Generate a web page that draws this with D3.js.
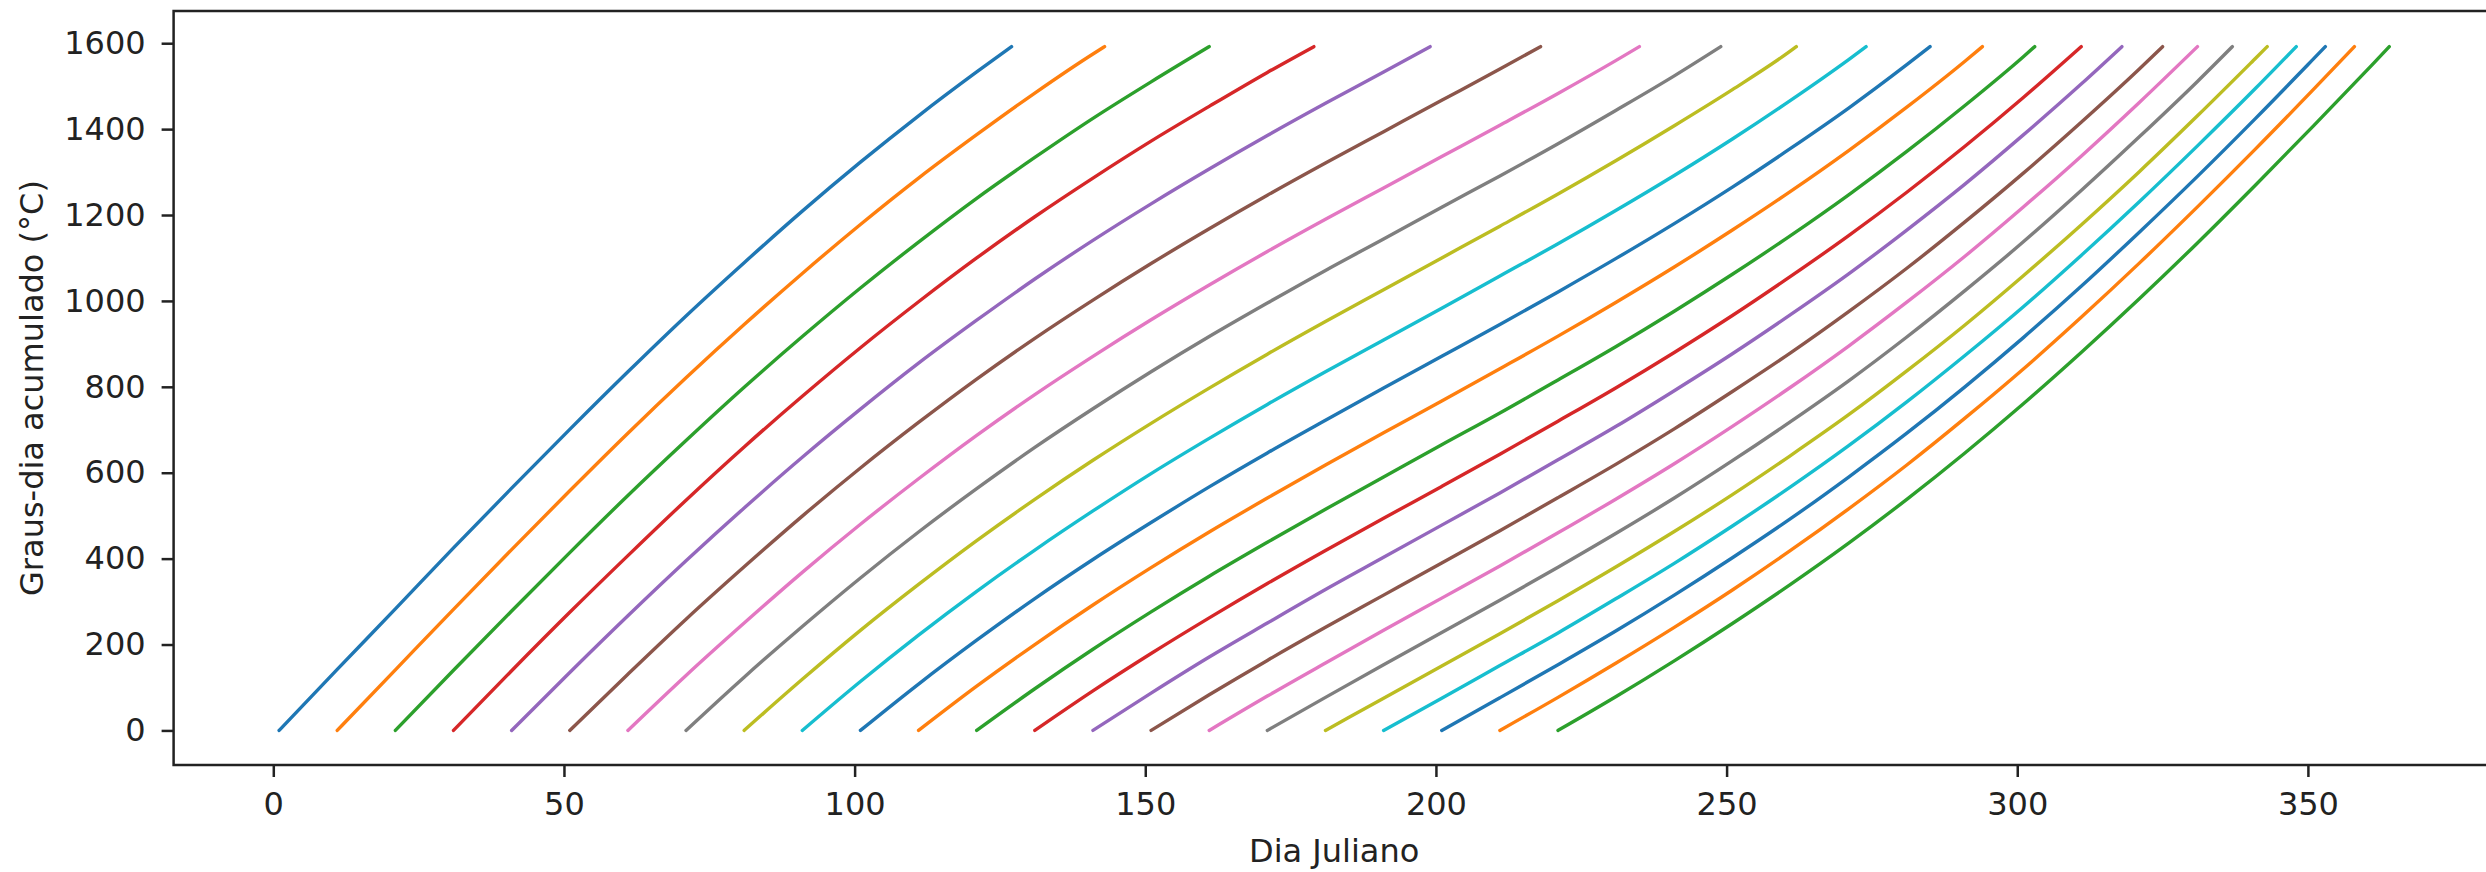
<!DOCTYPE html>
<html>
<head>
<meta charset="utf-8">
<script src="https://cdn.jsdelivr.net/npm/d3@7"></script>
<style>
  body { margin: 0; background: #fff; }
  svg { display: block; font-family: "DejaVu Sans", sans-serif; }
</style>
</head>
<body>
<div id="chart"></div>
<script>
// dia juliano em que cada curva começa e termina
var inicio = [1, 11, 21, 31, 41, 51, 61, 71, 81, 91, 101, 111, 121, 131, 141, 151, 161, 171, 181, 191, 201, 211, 221];
var fim = [127, 143, 161, 179, 199, 218, 235, 249, 262, 274, 285, 294, 303, 311, 318, 325, 331, 337, 343, 348, 353, 358, 364];

// graus-dia acumulados, um valor a cada 10 dias desde o início; o último é no dia "fim"
var gd01 = [0, 142, 283, 425, 564, 701, 835, 965, 1089, 1209, 1323, 1431, 1533, 1592];
var gd02 = [0, 141, 282, 421, 558, 692, 821, 945, 1064, 1178, 1286, 1387, 1484, 1575, 1592];
var gd03 = [0, 140, 278, 414, 547, 675, 799, 917, 1030, 1137, 1239, 1334, 1425, 1510, 1592];
var gd04 = [0, 139, 275, 407, 536, 660, 778, 891, 998, 1100, 1196, 1286, 1372, 1453, 1532, 1592];
var gd05 = [0, 135, 267, 395, 518, 636, 748, 855, 955, 1051, 1141, 1226, 1307, 1385, 1460, 1533, 1592];
var gd06 = [0, 131, 259, 381, 499, 611, 717, 818, 913, 1002, 1087, 1168, 1246, 1321, 1394, 1467, 1540, 1592];
var gd07 = [0, 128, 250, 368, 480, 586, 687, 782, 871, 956, 1037, 1115, 1190, 1263, 1336, 1409, 1483, 1560, 1592];
var gd08 = [0, 124, 242, 355, 462, 563, 659, 749, 835, 917, 995, 1071, 1144, 1218, 1291, 1366, 1444, 1524, 1592];
var gd09 = [0, 119, 233, 340, 442, 538, 629, 715, 797, 876, 952, 1026, 1100, 1174, 1249, 1327, 1408, 1492, 1582, 1592];
var gd10 = [0, 114, 222, 324, 420, 511, 598, 680, 759, 835, 909, 983, 1058, 1133, 1211, 1292, 1377, 1467, 1562, 1592];
var gd11 = [0, 108, 210, 307, 398, 484, 567, 646, 722, 797, 871, 945, 1021, 1099, 1180, 1265, 1355, 1449, 1550, 1592];
var gd12 = [0, 103, 200, 292, 379, 462, 541, 618, 693, 767, 842, 918, 997, 1079, 1165, 1255, 1350, 1451, 1558, 1592];
var gd13 = [0, 97, 189, 276, 359, 438, 515, 590, 665, 739, 816, 894, 976, 1062, 1152, 1247, 1348, 1455, 1568, 1592];
var gd14 = [0, 92, 179, 262, 342, 419, 494, 568, 643, 720, 798, 880, 966, 1057, 1152, 1253, 1360, 1473, 1592];
var gd15 = [0, 87, 171, 250, 328, 403, 478, 553, 630, 708, 791, 877, 968, 1063, 1165, 1272, 1386, 1505, 1592];
var gd16 = [0, 83, 163, 240, 315, 390, 465, 542, 620, 702, 789, 879, 975, 1076, 1184, 1297, 1416, 1540, 1592];
var gd17 = [0, 80, 157, 233, 308, 383, 460, 539, 621, 708, 799, 895, 997, 1104, 1218, 1337, 1462, 1592];
var gd18 = [0, 77, 153, 228, 303, 380, 459, 541, 628, 719, 814, 916, 1024, 1137, 1257, 1382, 1511, 1592];
var gd19 = [0, 75, 150, 225, 302, 381, 463, 549, 640, 735, 837, 944, 1058, 1177, 1301, 1431, 1565, 1592];
var gd20 = [0, 75, 151, 227, 307, 389, 476, 567, 663, 765, 873, 986, 1106, 1231, 1361, 1495, 1592];
var gd21 = [0, 76, 153, 232, 315, 402, 493, 590, 692, 800, 914, 1034, 1160, 1290, 1425, 1564, 1592];
var gd22 = [0, 77, 157, 240, 327, 419, 516, 618, 727, 841, 962, 1088, 1219, 1354, 1493, 1592];
var gd23 = [0, 79, 162, 249, 340, 436, 538, 646, 760, 880, 1005, 1135, 1270, 1408, 1549, 1592];

var curvas = [gd01, gd02, gd03, gd04, gd05, gd06, gd07, gd08, gd09, gd10, gd11, gd12,
  gd13, gd14, gd15, gd16, gd17, gd18, gd19, gd20, gd21, gd22, gd23];

var xTicks = [0, 50, 100, 150, 200, 250, 300, 350];
var yTicks = [0, 200, 400, 600, 800, 1000, 1200, 1400, 1600];

function makeChart() {
  var width = 2486, height = 872;
  var margin = { left: 173.6, right: 2494.8, top: 11, bottom: 765 };

  var svg = d3.select("#chart")
    .append("svg")
    .attr("width", width)
    .attr("height", height);

  var x = d3.scaleLinear().domain([-17.15, 382.15]).range([margin.left, margin.right]);
  var y = d3.scaleLinear().domain([-80.5, 1675]).range([margin.bottom, margin.top]);

  // pontos de cada curva
  var dados = curvas.map(function (v, i) {
    return v.map(function (g, j) {
      return { dia: j < v.length - 1 ? inicio[i] + 10 * j : fim[i], gd: g };
    });
  });

  var line = d3.line()
    .x(function (d) { return x(d.dia) })
    .y(function (d) { return y(d.gd) })
    .curve(d3.curveMonotoneX);

  svg.append("g")
    .selectAll("path")
    .data(dados)
    .join("path")
    .attr("fill", "none")
    .attr("stroke", function (d, i) { return d3.schemeCategory10[i % 10] })
    .attr("stroke-width", 3.4)
    .attr("stroke-linecap", "round")
    .attr("d", line);

  // eixos
  var xAxis = svg.append("g")
    .attr("transform", "translate(0," + margin.bottom + ")")
    .call(d3.axisBottom(x).tickValues(xTicks).tickFormat(d3.format("d"))
      .tickSize(12).tickPadding(15).tickSizeOuter(0));
  var yAxis = svg.append("g")
    .attr("transform", "translate(" + margin.left + ",0)")
    .call(d3.axisLeft(y).tickValues(yTicks).tickFormat(d3.format("d"))
      .tickSize(12).tickPadding(16).tickSizeOuter(0));

  [xAxis, yAxis].forEach(function (a) {
    a.select(".domain").remove();
    a.selectAll(".tick line").attr("stroke", "#222").attr("stroke-width", 2.5);
    a.selectAll(".tick text")
      .attr("fill", "#222")
      .style("font-family", "'DejaVu Sans', sans-serif")
      .style("font-size", "32px");
  });

  // moldura
  svg.append("rect")
    .attr("x", margin.left)
    .attr("y", margin.top)
    .attr("width", margin.right - margin.left)
    .attr("height", margin.bottom - margin.top)
    .attr("fill", "none")
    .attr("stroke", "#222")
    .attr("stroke-width", 2.5);

  svg.append("text")
    .attr("x", (margin.left + margin.right) / 2)
    .attr("y", 862)
    .attr("text-anchor", "middle")
    .attr("fill", "#222")
    .style("font-size", "32px")
    .text("Dia Juliano");

  svg.append("text")
    .attr("transform", "translate(43," + (margin.top + margin.bottom) / 2 + ") rotate(-90)")
    .attr("text-anchor", "middle")
    .attr("fill", "#222")
    .style("font-size", "32px")
    .text("Graus-dia acumulado (°C)");
}

makeChart();
</script>
</body>
</html>
